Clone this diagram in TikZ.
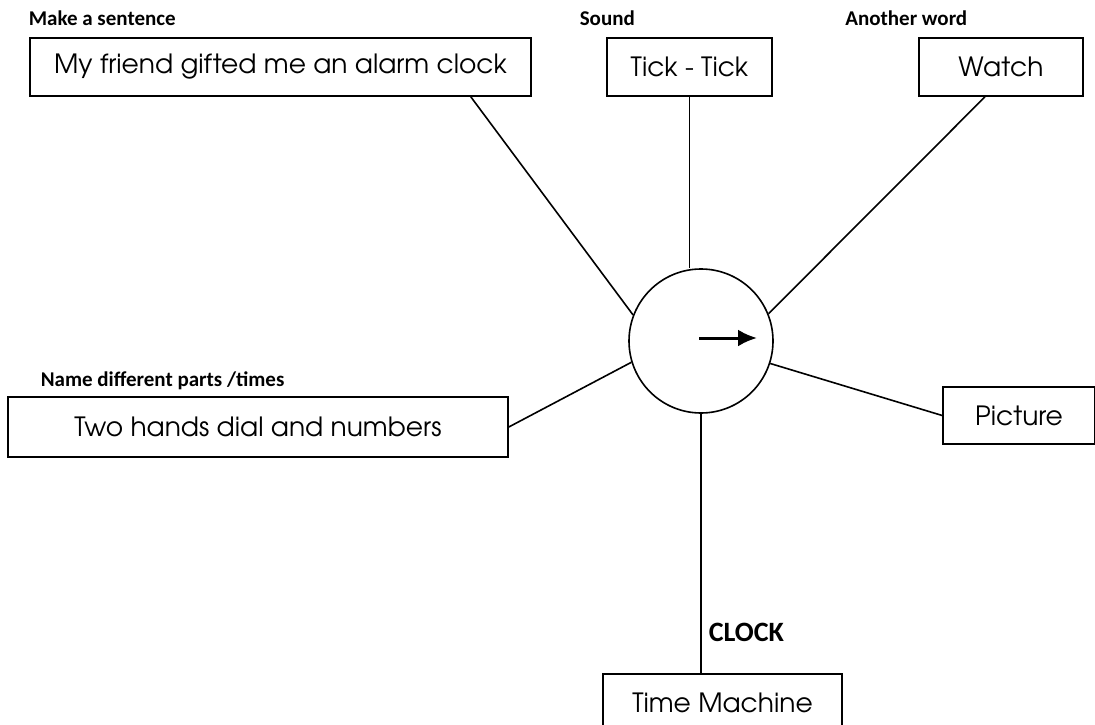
\documentclass[tikz,border=0pt]{standalone}
\usepackage{fontspec}
\setmainfont{Carlito}
\newfontfamily\gothic{texgyreadventor-regular.otf}
\usepackage{tikz}
\usetikzlibrary{calc}
\usetikzlibrary{arrows.meta}
\usetikzlibrary{positioning}

\begin{document}
\begin{tikzpicture}[
	x=1pt, y=-1pt,
	line width=1.6pt,
	box/.style={draw, rectangle, minimum height=58pt, inner sep=0pt,
		font=\gothic\fontsize{26.5}{30}\selectfont},
	tag/.style={anchor=west, inner sep=0pt, font=\bfseries\fontsize{21}{24}\selectfont},
	hub/.style={draw, circle, minimum size=144pt, inner sep=0pt},
	-->/.style={-{Latex[length=19pt,width=17pt]}, line width=3pt},
]
	\useasboundingbox (0,0) rectangle (1095,725);
	% the clock in the middle
	\node[hub] (clk) at (701,341) {};
	\draw[-->] ([shift={(-2pt,3pt)}]clk.center) -- ([shift={(56pt,3pt)}]clk.center);
	% boxes round it
	\node[box, minimum width=501pt] (sent) at (280.5,67) {My friend gifted me an alarm clock};
	\node[box, minimum width=165pt] (sound) at (689.5,67) {Tick - Tick};
	\node[box, minimum width=164pt] (word) at (1001,67) {Watch};
	\node[box, minimum width=500pt, minimum height=60pt] (parts) at (258,427) {Two hands dial and numbers};
	\node[box, minimum width=152pt, minimum height=57pt] (pic) at (1019,415.5) {Picture};
	\node[box, minimum width=239pt] (machine) at (722.5,703) {Time Machine};
	% headings
	\node[tag] (lsent) at (28,18) {Make a sentence};
	\node[tag] (lsound) at (579,18) {Sound};
	\node[tag, anchor=east] (lword) at (968,18) {Another word};
	\node[tag] (lparts) at (40,381) {Name different parts /times};
	\node[tag, font=\bfseries\fontsize{28}{32}\selectfont] (lclk) at (708,632) {CLOCK};
	% spokes
	\draw ([xshift=-61pt]sent.south east) -- (clk.159);
	\draw (sound.south) -- (sound.south |- clk.north);
	\draw ([xshift=-16pt]word.south) -- (clk.22);
	\draw (parts.east) -- (clk.197);
	\draw (clk.342) -- (pic.west);
	\draw (clk.south) -- (clk.south |- machine.north);
\end{tikzpicture}
\end{document}
